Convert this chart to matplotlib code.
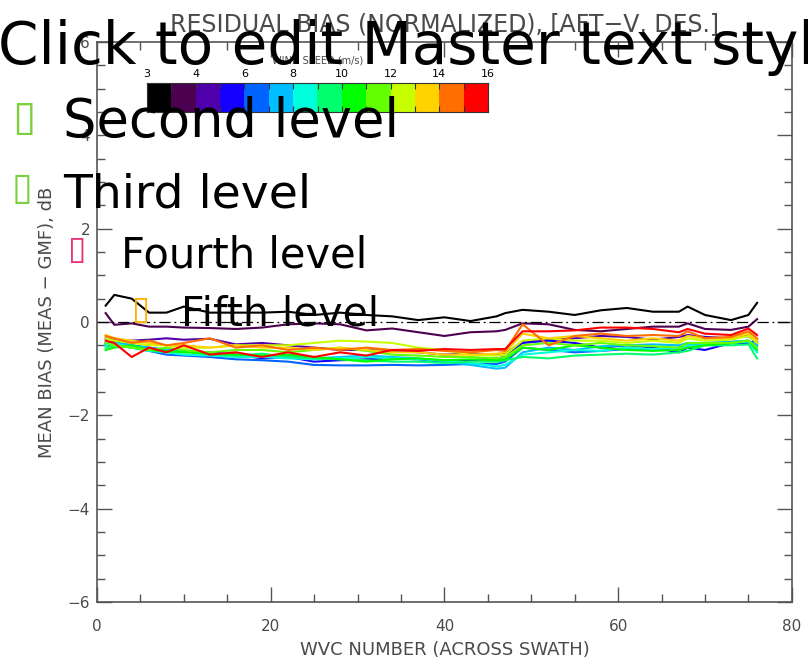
import numpy as np
import matplotlib
matplotlib.use("Agg")
import matplotlib.pyplot as plt
from matplotlib.colors import ListedColormap
from matplotlib.ticker import MultipleLocator

# wind speed bins (m/s) and their colours
speed_ticks = [3, 4, 6, 8, 10, 12, 14, 16]
speed_colors = ["#000000", "#4b0050", "#5000aa", "#1400ff", "#0064ff", "#00beff", "#00ffdc",
                "#00ff6e", "#00ff00", "#64ff00", "#c8ff00", "#ffd200", "#ff6e00", "#ff0000"]

wvc = [1, 2, 4, 6, 8, 10, 13, 16, 19, 22, 25, 28, 31, 34, 37, 40, 43, 46, 47, 49,
       52, 55, 58, 61, 64, 67, 68, 70, 73, 75, 76]

# mean bias per wind speed bin (dB)
bias_black = [0.35, 0.58, 0.50, 0.20, 0.20, 0.33, 0.20, 0.20, 0.20, 0.22, 0.15, 0.20, 0.15, 0.12, 0.04, 0.10,
              0.02, 0.12, 0.19, 0.26, 0.22, 0.15, 0.25, 0.30, 0.22, 0.22, 0.33, 0.15, 0.04, 0.15, 0.41]
bias_dkpurple = [0.19, -0.06, -0.03, -0.10, -0.10, -0.12, -0.13, -0.15, -0.12, -0.05, -0.03, -0.05, -0.18, -0.14,
                 -0.22, -0.30, -0.22, -0.20, -0.17, -0.03, -0.05, -0.17, -0.20, -0.15, -0.10, -0.10, -0.03, -0.15,
                 -0.17, -0.10, 0.06]
bias_violet = [-0.35, -0.38, -0.40, -0.38, -0.35, -0.38, -0.36, -0.48, -0.45, -0.50, -0.55, -0.60, -0.60, -0.62,
               -0.65, -0.70, -0.68, -0.70, -0.68, -0.42, -0.38, -0.35, -0.30, -0.32, -0.38, -0.32, -0.28, -0.32,
               -0.35, -0.30, -0.45]
bias_blue = [-0.45, -0.42, -0.50, -0.55, -0.60, -0.62, -0.65, -0.70, -0.78, -0.75, -0.85, -0.82, -0.80, -0.78,
             -0.80, -0.85, -0.82, -0.78, -0.75, -0.45, -0.40, -0.45, -0.55, -0.50, -0.55, -0.65, -0.55, -0.60,
             -0.45, -0.45, -0.40]
bias_azure = [-0.50, -0.48, -0.55, -0.62, -0.70, -0.72, -0.75, -0.80, -0.82, -0.85, -0.92, -0.93, -0.93, -0.92,
              -0.93, -0.92, -0.90, -0.90, -0.85, -0.55, -0.60, -0.65, -0.62, -0.58, -0.60, -0.55, -0.50, -0.45,
              -0.45, -0.42, -0.50]
bias_sky = [-0.45, -0.42, -0.50, -0.55, -0.60, -0.62, -0.68, -0.70, -0.75, -0.72, -0.78, -0.75, -0.72, -0.75,
            -0.78, -0.85, -0.92, -1.00, -0.98, -0.65, -0.55, -0.60, -0.52, -0.50, -0.48, -0.50, -0.45, -0.45,
            -0.42, -0.40, -0.50]
bias_cyan = [-0.50, -0.45, -0.55, -0.62, -0.65, -0.70, -0.72, -0.75, -0.75, -0.78, -0.80, -0.78, -0.75, -0.78,
             -0.80, -0.82, -0.88, -0.95, -0.92, -0.70, -0.65, -0.60, -0.62, -0.55, -0.58, -0.55, -0.50, -0.50,
             -0.45, -0.42, -0.65]
bias_spring = [-0.55, -0.50, -0.55, -0.60, -0.65, -0.62, -0.70, -0.72, -0.68, -0.75, -0.78, -0.80, -0.82, -0.85,
               -0.85, -0.88, -0.85, -0.85, -0.82, -0.75, -0.78, -0.72, -0.70, -0.68, -0.70, -0.65, -0.62, -0.50,
               -0.50, -0.48, -0.78]
bias_green = [-0.60, -0.55, -0.50, -0.60, -0.62, -0.65, -0.68, -0.70, -0.72, -0.70, -0.75, -0.80, -0.85, -0.80,
              -0.78, -0.82, -0.80, -0.82, -0.80, -0.55, -0.60, -0.50, -0.55, -0.60, -0.62, -0.60, -0.55, -0.50,
              -0.45, -0.40, -0.60]
bias_lime = [-0.45, -0.50, -0.55, -0.60, -0.55, -0.60, -0.65, -0.60, -0.60, -0.65, -0.60, -0.55, -0.62, -0.70,
             -0.72, -0.75, -0.75, -0.78, -0.75, -0.50, -0.45, -0.50, -0.45, -0.50, -0.52, -0.55, -0.45, -0.45,
             -0.45, -0.40, -0.55]
bias_ygreen = [-0.35, -0.40, -0.45, -0.50, -0.50, -0.55, -0.55, -0.50, -0.50, -0.50, -0.45, -0.40, -0.42, -0.45,
               -0.55, -0.60, -0.70, -0.72, -0.70, -0.40, -0.35, -0.40, -0.40, -0.45, -0.40, -0.45, -0.35, -0.40,
               -0.38, -0.30, -0.45]
bias_yellow = [-0.28, -0.35, -0.40, -0.45, -0.50, -0.50, -0.55, -0.50, -0.55, -0.55, -0.60, -0.55, -0.60, -0.65,
               -0.65, -0.70, -0.70, -0.68, -0.65, -0.25, -0.35, -0.30, -0.35, -0.40, -0.35, -0.40, -0.30, -0.35,
               -0.35, -0.25, -0.40]
bias_orange = [-0.30, -0.35, -0.45, -0.40, -0.50, -0.45, -0.35, -0.55, -0.50, -0.60, -0.55, -0.60, -0.55, -0.60,
               -0.58, -0.62, -0.65, -0.60, -0.62, -0.05, -0.50, -0.30, -0.25, -0.30, -0.28, -0.30, -0.20, -0.35,
               -0.32, -0.20, -0.35]
bias_red = [-0.40, -0.45, -0.75, -0.55, -0.65, -0.50, -0.70, -0.65, -0.75, -0.65, -0.75, -0.65, -0.72, -0.60,
            -0.62, -0.58, -0.60, -0.58, -0.58, -0.20, -0.20, -0.18, -0.12, -0.12, -0.15, -0.22, -0.15, -0.25,
            -0.28, -0.14, -0.28]

all_bias = [bias_black, bias_dkpurple, bias_violet, bias_blue, bias_azure, bias_sky, bias_cyan, bias_spring,
            bias_green, bias_lime, bias_ygreen, bias_yellow, bias_orange, bias_red]

gray = "#4a4a4a"

fig = plt.figure(figsize=(8.08, 6.64), dpi=100)
ax = fig.add_axes([0.120, 0.0934, 0.860, 0.8434])

for vals, col in zip(all_bias, speed_colors):
    ax.plot(wvc, vals, color=col, lw=1.5)
ax.axhline(0, color="black", lw=0.9, dashes=(9, 3, 1.5, 3))

ax.set_xlim(0, 80)
ax.set_ylim(-6, 6)
ax.xaxis.set_major_locator(MultipleLocator(20))
ax.xaxis.set_minor_locator(MultipleLocator(5))
ax.yaxis.set_minor_locator(MultipleLocator(0.5))
ax.set_yticks([-6, -4, -2, 0, 2, 4, 6])
ax.set_yticklabels(["\u22126", "\u22124", "\u22122", "0", "2", "4", "6"])
ax.tick_params(which="both", direction="in", top=True, right=True, color="#555555", width=1.0,
               labelcolor=gray, labelsize=11)
ax.tick_params(which="major", length=11)
ax.tick_params(which="minor", length=6)
ax.tick_params(axis="x", pad=12)
ax.tick_params(axis="y", pad=5)
for sp in ax.spines.values():
    sp.set_color("#555555")
    sp.set_linewidth(1.2)

ax.set_xlabel("WVC NUMBER (ACROSS SWATH)", fontsize=13, color=gray, labelpad=5)
ax.set_ylabel("MEAN BIAS (MEAS \u2212 GMF), dB", fontsize=13, color=gray, labelpad=8)
ax.set_title("RESIDUAL BIAS (NORMALIZED), [AFT\u2212V, DES.]", fontsize=17, color=gray, pad=8)

# wind speed colour key
cax = fig.add_axes([0.182, 0.831, 0.422, 0.0437])
cax.imshow(np.arange(len(speed_colors))[None, :], cmap=ListedColormap(speed_colors), aspect="auto",
           extent=(0, len(speed_colors), 0, 1))
cax.set_yticks([])
cax.set_xticks(np.arange(0, 15, 2))
cax.set_xticklabels([str(s) for s in speed_ticks], fontsize=8, color="black")
cax.set_xticks(np.arange(0, 15), minor=True)
cax.tick_params(which="both", direction="in", top=True, bottom=True, labeltop=True, labelbottom=False,
                length=4, width=0.8, color="#333333", pad=3)
for sp in cax.spines.values():
    sp.set_linewidth(0.8)
    sp.set_color("#333333")
cax.set_title("WIND SPEED (m/s)", fontsize=7, color=gray, pad=14)

# slide placeholder text laid over the chart
W, H = 808.0, 664.0
fig.text(-2 / W, 1 - 64 / H, "Click to edit Master text styles", fontsize=41.8, color="black",
         va="baseline", ha="left")
levels = [("Second level", 63, 137, 38, "#7ccf3f", 12, 130),
          ("Third level", 63, 207, 34, "#7ccf3f", 12, 199),
          ("Fourth level", 121, 267, 30, "#e8327c", 68, 259),
          ("Fifth level", 181, 325, 29.5, "#ffb000", 132, 319)]
for txt, tx, ty, fs, bcol, bx, by in levels:
    fig.text(tx / W, 1 - ty / H, txt, fontsize=fs, color="black", va="baseline", ha="left")
    fig.text(bx / W, 1 - by / H, "\u25af", fontsize=fs * 0.8, color=bcol, va="baseline", ha="left")

fig.savefig("out.png", dpi=100)
